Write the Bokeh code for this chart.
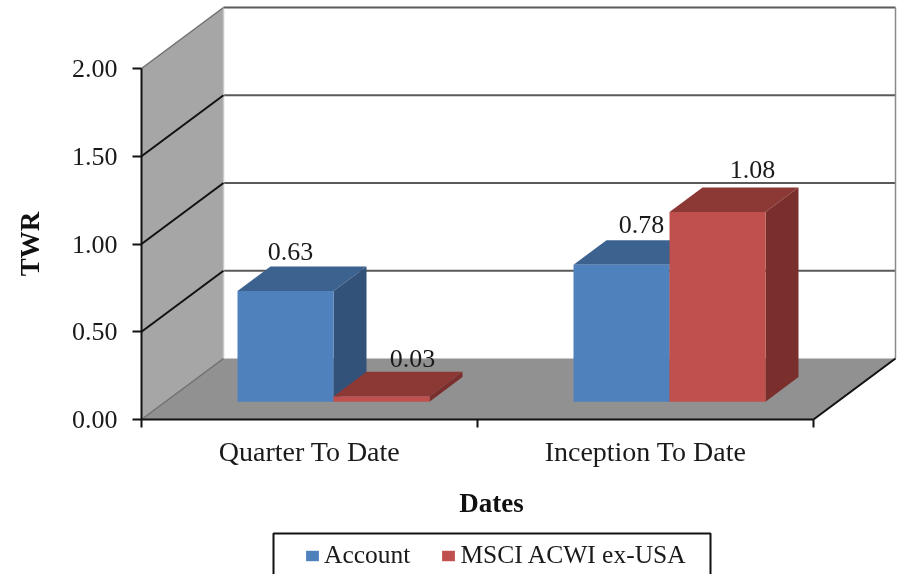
from bokeh.plotting import figure
from bokeh.models import (ColumnDataSource, FixedTicker, Label, Legend, LegendItem, Range1d)
from bokeh.core.properties import value
from bokeh.embed import file_html
from bokeh.resources import INLINE

categories = ["Quarter To Date", "Inception To Date"]
account = [0.63, 0.78]
msci = [0.03, 1.08]
y_ticks = [0.0, 0.5, 1.0, 1.5, 2.0]
series_names = ["Account", "MSCI ACWI ex-USA"]

W, H = 899, 574
L, B = 141, 155
PX_X, PX_Y = 336.0, 175.5          # pixels per unit
DX, DY = 82 / PX_X, 61 / PX_Y      # floor depth in data units
BAR_W = 96 / PX_X
F0, F1 = 24 / 82, 57 / 82          # front / back depth fraction of the bars
SERIF = "Liberation Serif"
INK = "#1A1A1A"

p = figure(width=W, height=H, output_backend="svg", toolbar_location=None,
           x_range=Range1d(-L / PX_X, (W - L) / PX_X), y_range=Range1d(-B / PX_Y, (H - B) / PX_Y),
           min_border=0, outline_line_color=None,
           background_fill_color="white", border_fill_color="white")
p.styles = {"position": "fixed", "left": "0", "top": "0"}
p.grid.visible = False

# walls and floor
p.patch([0, DX, DX, 0], [0, DY, 2 + DY, 2], fill_color="#A6A6A6", line_color=None)
p.patch([0, 2, 2 + DX, DX], [0, 0, DY, DY], fill_color="#919191", line_color=None)

# back wall grid, side wall grid
back = [v for v in y_ticks if v > 0]
p.segment([DX] * len(back), [v + DY for v in back], [2 + DX] * len(back), [v + DY for v in back],
          line_color="#5A5A5A", line_width=2)
p.segment([2 + DX], [DY], [2 + DX], [2 + DY], line_color="#8A8A8A", line_width=1.5)
p.segment([DX], [DY], [DX], [2 + DY], line_color="#C8C8C8", line_width=1.5)
inner = [0.5, 1.0, 1.5]
p.segment([0] * 3, inner, [DX] * 3, [v + DY for v in inner], line_color="#111111", line_width=2)
p.segment([0, 0], [2, 0], [DX, DX], [2 + DY, DY], line_color="#707070", line_width=1.5)
p.segment([2], [0], [2 + DX], [DY], line_color="#111111", line_width=2)

# bars
def draw_series(values, offset, front, top, side):
    x0 = [0.5 + i + offset + F0 * DX for i in range(len(values))]
    x1 = [x + BAR_W for x in x0]
    y0 = [F0 * DY] * len(values)
    y1 = [v + F0 * DY for v in values]
    d_x, d_y = (F1 - F0) * DX, (F1 - F0) * DY
    p.patches([[a, b, b + d_x, a + d_x] for a, b in zip(x0, x1)],
              [[t, t, t + d_y, t + d_y] for t in y1],
              fill_color=top, line_color=None)
    p.patches([[b, b + d_x, b + d_x, b] for b in x1],
              [[s, s + d_y, t + d_y, t] for s, t in zip(y0, y1)],
              fill_color=side, line_color=None)
    return p.quad(left=x0, right=x1, bottom=y0, top=y1, fill_color=front, line_color=None)

r_acc = draw_series(account, -BAR_W, "#4F81BD", "#3C6290", "#33527A")
r_msci = draw_series(msci, 0, "#C0504D", "#8C3936", "#7A2F2D")

# data labels
lab_x, lab_y, lab_t, lab_off = [], [], [], []
lab_shift_x = [5, 20, 31, 35]
lab_shift_y = [15, 16, 13, 18]
for s, (vals, off) in enumerate(((account, -BAR_W), (msci, 0))):
    for i, v in enumerate(vals):
        lab_x.append(0.5 + i + off + F0 * DX + BAR_W / 2)
        lab_y.append(v + F1 * DY)
        lab_t.append(f"{v:.2f}")
        lab_off.append(lab_shift_x[s * 2 + i])
src = ColumnDataSource(dict(x=lab_x, y=lab_y, t=lab_t, dx=lab_off, dy=[-d for d in lab_shift_y]))
p.text("x", "y", text="t", source=src, x_offset="dx", y_offset="dy",
       text_font=value(SERIF), text_font_size="26px", text_align="center",
       text_baseline="alphabetic", text_color=INK)

# axes
ya = p.yaxis[0]
ya.fixed_location = 0
ya.bounds = (0, 2)
ya.ticker = FixedTicker(ticks=y_ticks, minor_ticks=[])
ya.major_label_overrides = {v: f"{v:.2f}" for v in y_ticks}
ya.major_tick_in, ya.major_tick_out = 0, 9
ya.minor_tick_line_color = None
ya.axis_line_width = ya.major_tick_line_width = 2
ya.axis_line_color = ya.major_tick_line_color = "#111111"
ya.major_label_text_font = SERIF
ya.major_label_text_font_size = "26px"
ya.major_label_text_color = INK
ya.major_label_standoff = 15

xa = p.xaxis[0]
xa.fixed_location = 0
xa.bounds = (0, 2)
xa.ticker = FixedTicker(ticks=[0.5, 1.5], minor_ticks=[0, 1, 2])
xa.major_label_overrides = {0.5: categories[0], 1.5: categories[1]}
xa.major_tick_in = xa.major_tick_out = 0
xa.minor_tick_in, xa.minor_tick_out = 0, 8
xa.axis_line_width = xa.minor_tick_line_width = 2
xa.axis_line_color = xa.minor_tick_line_color = "#111111"
xa.major_label_text_font = SERIF
xa.major_label_text_font_size = "28px"
xa.major_label_text_color = INK
xa.major_label_standoff = 8

# axis titles
p.add_layout(Label(x=350 / PX_X, y=-83 / PX_Y, text="Dates", text_font=SERIF,
                   text_font_size="27px", text_font_style="bold", text_align="center",
                   text_baseline="middle", text_color="#111111"))
p.add_layout(Label(x=-112 / PX_X, y=1.0, text="TWR", text_font=SERIF,
                   text_font_size="27px", text_font_style="bold", text_align="center",
                   text_baseline="middle", angle=90, angle_units="deg", text_color="#111111"))

# legend frame (runs off the bottom of the picture, as in the reference)
p.quad(left=[132 / PX_X], right=[569 / PX_X], top=[-114 / PX_Y], bottom=[-170 / PX_Y],
       fill_color="white", line_color="#111111", line_width=2)

legend = Legend(items=[LegendItem(label=series_names[0], renderers=[r_acc]),
                       LegendItem(label=series_names[1], renderers=[r_msci])],
                orientation="horizontal", location=(304, 4), margin=0, padding=0, spacing=30,
                glyph_width=16, glyph_height=13, label_standoff=4,
                label_text_font=SERIF, label_text_font_size="25.5px", label_text_color=INK,
                border_line_color=None, background_fill_alpha=0)
p.add_layout(legend, "center")

open("out.html", "w").write(file_html(p, INLINE))
